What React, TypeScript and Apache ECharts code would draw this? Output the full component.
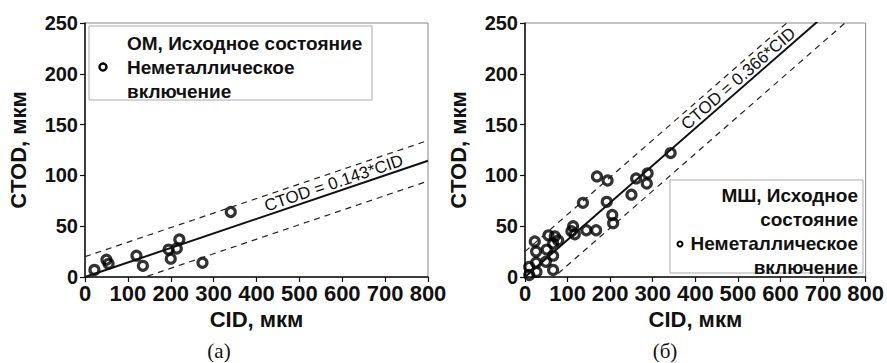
import { useEffect, useRef } from "react";
import * as echarts from "echarts";

// ОМ (base metal), initial state: non-metallic inclusions
const omCid = [22, 50, 55, 120, 135, 195, 200, 214, 220, 274, 340];
const omCtod = [7, 17, 13, 21, 11, 27, 18, 28, 37, 14, 64];

// МШ (weld seam), initial state: non-metallic inclusions
const mshCid = [
  10, 10, 27, 26, 49, 26, 51, 66, 66, 66, 23, 55, 70, 78, 109, 113, 117, 144,
  167, 136, 169, 194, 192, 205, 207, 250, 261, 288, 286, 342,
];
const mshCtod = [
  2, 10, 5, 14, 15, 25, 27, 7, 21, 33, 35, 41, 40, 36, 45, 50, 42, 46, 46, 73,
  99, 95, 74, 61, 53, 81, 97, 102, 92, 122,
];

// Linear fits through the origin and the scatter band around them
const omSlope = 0.143;
const omBand = 20;
const mshSlope = 0.366;
const mshBand = 25;

const cidMax = 800;
const ctodMax = 250;

const FONT = "Liberation Sans, Arial, sans-serif";

const pairs = (xs: number[], ys: number[]) => xs.map((x, i) => [x, ys[i]]);
const fitLine = (slope: number, shift: number) => [
  [0, shift],
  [cidMax, slope * cidMax + shift],
];

function axisPair(gridIndex: number) {
  const x = {
    type: "value",
    gridIndex,
    min: 0,
    max: cidMax,
    interval: 100,
    name: "CID, мкм",
    nameLocation: "middle",
    nameGap: 28,
    nameTextStyle: { fontFamily: FONT, fontWeight: "bold", fontSize: 22, color: "#111" },
    axisLine: { lineStyle: { color: "#111", width: 1.5 } },
    axisTick: { show: true, length: 5, lineStyle: { color: "#111", width: 1.2 } },
    axisLabel: { fontFamily: FONT, fontWeight: "bold", fontSize: 22, color: "#111", margin: 5 },
    splitLine: { show: false },
  };
  const y = {
    type: "value",
    gridIndex,
    min: 0,
    max: ctodMax,
    interval: 50,
    name: "CTOD, мкм",
    nameLocation: "middle",
    nameGap: 56,
    nameTextStyle: { fontFamily: FONT, fontWeight: "bold", fontSize: 22, color: "#111" },
    axisLine: { lineStyle: { color: "#111", width: 1.5 } },
    axisTick: { show: true, length: 5, lineStyle: { color: "#111", width: 1.2 } },
    axisLabel: { fontFamily: FONT, fontWeight: "bold", fontSize: 20, color: "#111", margin: 7 },
    splitLine: { show: false },
  };
  return { x, y };
}

function panelSeries(
  idx: number,
  cid: number[],
  ctod: number[],
  slope: number,
  band: number
) {
  const dashed = { color: "#222", width: 1.2, type: [6, 5] as number[] };
  const base = {
    type: "line",
    xAxisIndex: idx,
    yAxisIndex: idx,
    showSymbol: false,
    silent: true,
    clip: true,
  };
  return [
    { ...base, data: fitLine(slope, band), lineStyle: dashed },
    { ...base, data: fitLine(slope, -band), lineStyle: dashed },
    { ...base, data: fitLine(slope, 0), lineStyle: { color: "#111", width: 2 } },
    {
      type: "scatter",
      xAxisIndex: idx,
      yAxisIndex: idx,
      data: pairs(cid, ctod),
      symbol: "circle",
      symbolSize: 9,
      itemStyle: { color: "rgba(0,0,0,0)", borderColor: "#000", borderWidth: 3.2 },
    },
  ];
}

export default function App() {
  const ref = useRef<HTMLDivElement>(null);

  useEffect(() => {
    const chart = echarts.init(ref.current!, null, { renderer: "svg" });
    const a = axisPair(0);
    const b = axisPair(1);

    chart.setOption({
      animation: false,
      backgroundColor: "#fff",
      grid: [
        { left: 85, top: 23, width: 343, height: 254, show: true, borderColor: "#888", borderWidth: 1 },
        { left: 525, top: 23, width: 343, height: 254, show: true, borderColor: "#888", borderWidth: 1 },
      ],
      xAxis: [a.x, b.x],
      yAxis: [a.y, b.y],
      series: [
        ...panelSeries(0, omCid, omCtod, omSlope, omBand),
        ...panelSeries(1, mshCid, mshCtod, mshSlope, mshBand),
      ],
    });

    // Equation label laid along a fitted line, just above it
    const equation = (gridIndex: number, slope: number, atCid: number, text: string) => {
      const p0 = chart.convertToPixel({ gridIndex }, [0, 0]) as number[];
      const p1 = chart.convertToPixel({ gridIndex }, [atCid, slope * atCid]) as number[];
      const angle = Math.atan2(-(p1[1] - p0[1]), p1[0] - p0[0]);
      const off = 9;
      return {
        type: "text",
        x: p1[0] - Math.sin(angle) * off,
        y: p1[1] - Math.cos(angle) * off,
        rotation: angle,
        style: {
          text,
          fontFamily: FONT,
          fontSize: 17,
          fill: "#111",
          align: "center",
          verticalAlign: "middle",
        },
      };
    };

    const legendText = (x: number, y: number, text: string, align = "left") => ({
      type: "text",
      x,
      y,
      style: {
        text,
        fontFamily: FONT,
        fontWeight: "bold",
        fontSize: 19,
        fill: "#111",
        align,
        verticalAlign: "middle",
      },
    });

    const caption = (x: number, text: string) => ({
      type: "text",
      x,
      y: 351,
      style: {
        text,
        fontFamily: "Liberation Serif, Times New Roman, serif",
        fontSize: 21,
        fill: "#111",
        align: "center",
        verticalAlign: "middle",
      },
    });

    chart.setOption({
      graphic: [
        equation(0, omSlope, 587, "CTOD = 0.143*CID"),
        equation(1, mshSlope, 515, "CTOD = 0.366*CID"),
        // legend of panel (а)
        {
          type: "rect",
          shape: { x: 89, y: 26, width: 283, height: 74 },
          style: { fill: "#fff", stroke: "#aaa", lineWidth: 1 },
        },
        legendText(127, 43, "ОМ, Исходное состояние"),
        legendText(127, 67, "Неметаллическое"),
        legendText(127, 91, "включение"),
        {
          type: "circle",
          shape: { cx: 103, cy: 67, r: 3.5 },
          style: { fill: "none", stroke: "#000", lineWidth: 2.5 },
        },
        // legend of panel (б)
        {
          type: "rect",
          shape: { x: 670, y: 180, width: 193, height: 93 },
          style: { fill: "#fff", stroke: "#aaa", lineWidth: 1 },
        },
        legendText(858, 195, "МШ, Исходное", "right"),
        legendText(858, 219, "состояние", "right"),
        legendText(858, 243, "Неметаллическое", "right"),
        legendText(858, 267, "включение", "right"),
        {
          type: "circle",
          shape: { cx: 680, cy: 244, r: 2.5 },
          style: { fill: "none", stroke: "#000", lineWidth: 2 },
        },
        caption(219, "(а)"),
        caption(665, "(б)"),
      ],
    });

    return () => chart.dispose();
  }, []);

  return (
    <div
      ref={ref}
      style={{ position: "absolute", left: 0, top: 0, width: 887, height: 363 }}
    />
  );
}
